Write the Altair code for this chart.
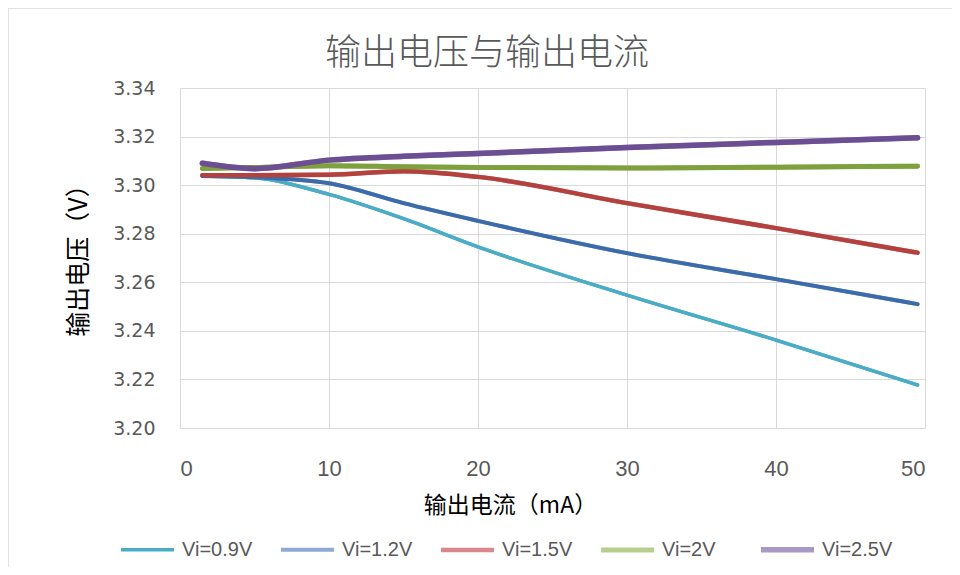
import altair as alt
import pandas as pd

# ---- data ----
current_ma = [1.5, 5, 10, 15, 20, 30, 40, 49.5]
series_names = ["Vi=0.9V", "Vi=1.2V", "Vi=1.5V", "Vi=2V", "Vi=2.5V"]
v_09 = [3.3038, 3.3030, 3.2962, 3.2862, 3.2746, 3.2547, 3.2362, 3.2177]
v_12 = [3.3038, 3.3033, 3.3008, 3.2926, 3.2853, 3.2720, 3.2613, 3.2510]
v_15 = [3.3041, 3.3041, 3.3043, 3.3057, 3.3034, 3.2926, 3.2823, 3.2722]
v_20 = [3.3069, 3.3073, 3.3080, 3.3076, 3.3073, 3.3071, 3.3074, 3.3078]
v_25 = [3.3090, 3.3068, 3.3103, 3.3119, 3.3130, 3.3155, 3.3176, 3.3195]
x_ticks = [0, 10, 20, 30, 40, 50]
y_ticks = [3.20, 3.22, 3.24, 3.26, 3.28, 3.30, 3.32, 3.34]
chart_title = ["输出电压与输出电流"]

line_colors = ["#4BACC6", "#3C6BAA", "#B3413D", "#7FA03E", "#6C4F93"]
legend_colors = ["#4BACC6", "#8EA9D6", "#D8888A", "#B7CF8C", "#A798C5"]
widths = [3.5, 5.5, 5.5, 5.5, 5.5]

rows = []
for name, vals in zip(series_names, [v_09, v_12, v_15, v_20, v_25]):
    for x, v in zip(current_ma, vals):
        rows.append({"current": x, "voltage": v, "series": name})
df = pd.DataFrame(rows)

W, H = 745, 340

x_enc = alt.X("current:Q",
              scale=alt.Scale(domain=[0, 50], nice=False),
              axis=alt.Axis(values=x_ticks, title="输出电流（mA）", grid=True,
                            ticks=False, domain=False, labelPadding=30,
                            labelFont="Liberation Sans", labelFontSize=22,
                            labelColor="#595959",
                            titleFont="Noto Sans CJK SC", titleFontSize=23,
                            titleFontWeight="normal", titleColor="#000000",
                            titleX=330, titleY=77, titleBaseline="middle"))
y_enc = alt.Y("voltage:Q",
              scale=alt.Scale(domain=[3.20, 3.34], nice=False, zero=False),
              axis=alt.Axis(values=y_ticks, format=".2f", title="输出电压（V）",
                            grid=True, ticks=False, domain=False, labelPadding=25,
                            labelFont="DejaVu Sans", labelFontSize=19,
                            labelColor="#595959",
                            titleFont="Noto Sans CJK SC", titleFontSize=25,
                            titleFontWeight="normal", titleColor="#000000",
                            titleX=-102, titleY=166, titleBaseline="middle"))

legend_layer = alt.Chart(df).mark_line(interpolate="monotone", strokeCap="round").encode(
    x=x_enc, y=y_enc,
    color=alt.Color("series:N", sort=series_names,
                    scale=alt.Scale(domain=series_names, range=legend_colors),
                    legend=alt.Legend(title=None, orient="none", legendX=-62, legendY=432,
                                      direction="horizontal", columns=5, gridAlign="all",
                                      symbolType="stroke", symbolSize=2809,
                                      symbolStrokeWidth=4, labelOffset=5,
                                      columnPadding=17, padding=0,
                                      labelFont="Liberation Sans", labelFontSize=20,
                                      labelColor="#595959")),
    strokeWidth=alt.StrokeWidth("series:N", scale=alt.Scale(domain=series_names, range=widths),
                                legend=None),
)

line_layer = alt.Chart(df).mark_line(interpolate="monotone", strokeCap="round").encode(
    x="current:Q", y="voltage:Q",
    color=alt.Color("series:N", sort=series_names,
                    scale=alt.Scale(domain=series_names, range=line_colors),
                    legend=None),
    strokeWidth=alt.StrokeWidth("series:N", scale=alt.Scale(domain=series_names, range=widths),
                                legend=None),
)

frame = alt.Chart(pd.DataFrame({"k": [0]})).mark_rect(
    fill=None, stroke="#D9D9D9", strokeWidth=1.5
).encode(x=alt.value(-172), x2=alt.value(W + 80), y=alt.value(-80), y2=alt.value(H + 200))

title_layer = alt.Chart(pd.DataFrame({"t": chart_title})).mark_text(
    font="Noto Sans CJK SC", fontSize=36, fontWeight=300, color="#595959",
    align="center", baseline="middle"
).encode(text="t:N", x=alt.value(307), y=alt.value(-34))

chart = alt.layer(frame, legend_layer, line_layer, title_layer).resolve_scale(
    color="independent", strokeWidth="independent"
).properties(
    width=W, height=H,
    padding={"left": 172, "top": 80, "right": 27, "bottom": 139},
    autosize=alt.AutoSizeParams(type="none"),
).configure_view(stroke=None).configure_axis(gridColor="#D9D9D9", gridWidth=1)

chart.save("out.html", embed_options={"renderer": "svg", "actions": False})
